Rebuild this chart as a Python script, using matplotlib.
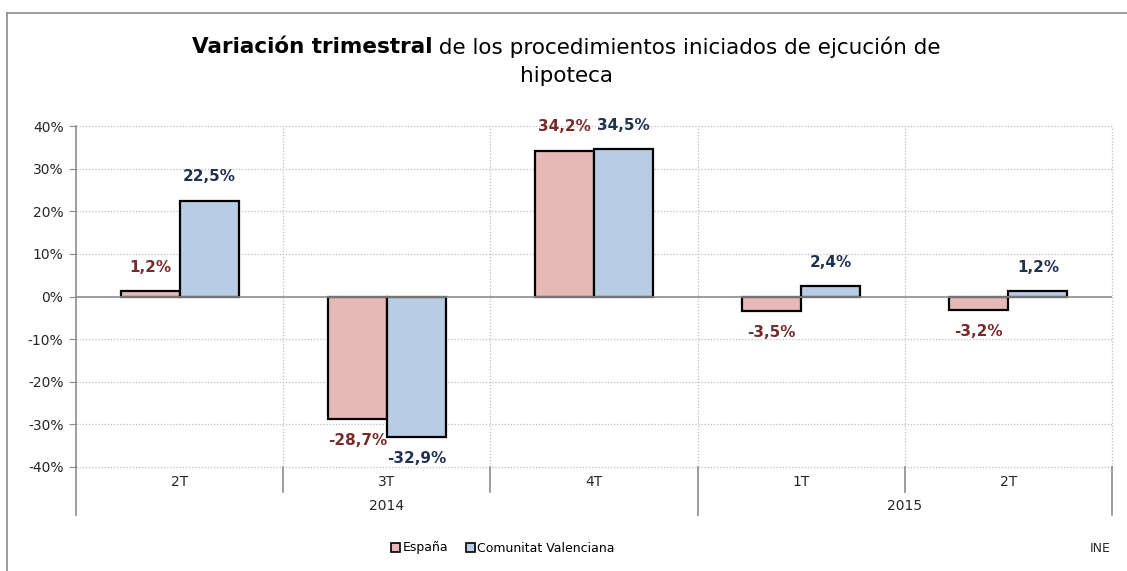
import matplotlib
matplotlib.use("Agg")
import matplotlib.pyplot as plt
from matplotlib.lines import Line2D
import numpy as np

# Quarterly change in foreclosure proceedings started (%)
quarters = ["2T", "3T", "4T", "1T", "2T"]
years = ["2014", "2015"]
year_spans = [(0, 2), (3, 4)]  # first/last quarter index of each year
espana = [1.2, -28.7, 34.2, -3.5, -3.2]
valenciana = [22.5, -32.9, 34.5, 2.4, 1.2]
series_names = ["España", "Comunitat Valenciana"]

fill_colors = ["#E6B8B7", "#B8CCE4"]
label_colors = ["#772C2B", "#1F3250"]
grid_color = "#BFBFBF"
axis_color = "#8C8C8C"
text_color = "#262626"

plt.rcParams["font.family"] = ["DejaVu Sans"]

W, H = 1127, 571
fig = plt.figure(figsize=(W / 100, H / 100), dpi=100)


def px(x, y):
    return x / W, 1 - y / H


# outer chart frame (only top and left edges are visible)
fig.add_artist(Line2D([7 / W, 7 / W], [0, 1 - 13 / H], color=axis_color, lw=1.2))
fig.add_artist(Line2D([7 / W, 1], [1 - 13 / H, 1 - 13 / H], color=axis_color, lw=1.2))

left, top = px(76, 126)
right, bottom = px(1112, 467)
ax = fig.add_axes([left, bottom, right - left, top - bottom])

x = np.arange(len(quarters))
bw = 0.285
bars_e = ax.bar(x - bw / 2, espana, bw, color=fill_colors[0], edgecolor="black", lw=1.6, zorder=3)
bars_v = ax.bar(x + bw / 2, valenciana, bw, color=fill_colors[1], edgecolor="black", lw=1.6, zorder=3)

ax.set_xlim(-0.5, len(quarters) - 0.5)
ax.set_ylim(-40, 40)
ax.set_yticks(np.arange(-40, 41, 10))
ax.set_yticklabels([f"{v}%" for v in range(-40, 41, 10)], fontsize=10, color=text_color)
ax.tick_params(axis="y", length=5, color=axis_color, pad=4)
ax.set_xticks([])

# dotted grid: horizontal at each 10 %, vertical between quarters
for v in range(-40, 41, 10):
    if v != 0:
        ax.axhline(v, color=grid_color, lw=0.9, ls=(0, (1, 1.5)), zorder=1, clip_on=False)
for b in np.arange(0.5, len(quarters), 1.0):
    ax.axvline(b, color=grid_color, lw=0.9, ls=(0, (1, 1.5)), zorder=1, clip_on=False)
ax.axhline(0, color=axis_color, lw=1.2, zorder=4)

for s in ["top", "right", "bottom"]:
    ax.spines[s].set_visible(False)
ax.spines["left"].set_color(axis_color)
ax.spines["left"].set_linewidth(1.2)

# value labels
for bars, vals, col in [(bars_e, espana, label_colors[0]), (bars_v, valenciana, label_colors[1])]:
    for bar, v in zip(bars, vals):
        cx = bar.get_x() + bar.get_width() / 2
        off = 12 if v >= 0 else -10
        ax.annotate(f"{v:.1f}%".replace(".", ","), (cx, v), xytext=(0, off),
                    textcoords="offset points", ha="center",
                    va="bottom" if v >= 0 else "top",
                    fontsize=11, fontweight="bold", color=col, zorder=5)

# two-level category axis below the plot
trans = ax.get_xaxis_transform()
span = 467 - 126
yq = -(482 - 467) / span
yy = -(506 - 467) / span
short = -(492 - 467) / span
long_ = -(515 - 467) / span
for i, q in enumerate(quarters):
    ax.text(i, yq, q, transform=trans, ha="center", va="center", fontsize=10, color=text_color)
for name, (a, b) in zip(years, year_spans):
    ax.text((a + b) / 2, yy, name, transform=trans, ha="center", va="center", fontsize=10, color=text_color)
year_edges = {-0.5} | {b + 0.5 for _, b in year_spans}
for e in np.arange(-0.5, len(quarters), 1.0):
    end = long_ if e in year_edges else short
    ax.add_line(Line2D([e, e], [0, end], transform=trans, color=axis_color, lw=1.2, clip_on=False))

# title: bold lead followed by regular text, centred as one line
fig.canvas.draw()
renderer = fig.canvas.get_renderer()
tx, ty = px(566, 47)
t1 = fig.text(0, ty, "Variación trimestral", fontsize=15.5, fontweight="bold", va="center")
t2 = fig.text(0, ty, " de los procedimientos iniciados de ejcución de", fontsize=15.5, va="center")
w1 = t1.get_window_extent(renderer).width / W
w2 = t2.get_window_extent(renderer).width / W
start = tx - (w1 + w2) / 2
t1.set_x(start)
t2.set_x(start + w1)
fig.text(tx, px(0, 76)[1], "hipoteca", fontsize=15.5, ha="center", va="center")

# legend and source
handles = [plt.Rectangle((0, 0), 1, 1, facecolor=c, edgecolor="black", lw=1.2) for c in fill_colors]
fig.legend(handles, series_names, loc="center", bbox_to_anchor=px(503, 548), ncol=2,
           frameon=False, fontsize=9, handlelength=0.7, handleheight=0.7,
           handletextpad=0.2, columnspacing=1.4, borderaxespad=0)
fig.text(*px(1100, 548), "INE", fontsize=9, ha="center", va="center", color=text_color)

fig.savefig("out.png", dpi=100)
